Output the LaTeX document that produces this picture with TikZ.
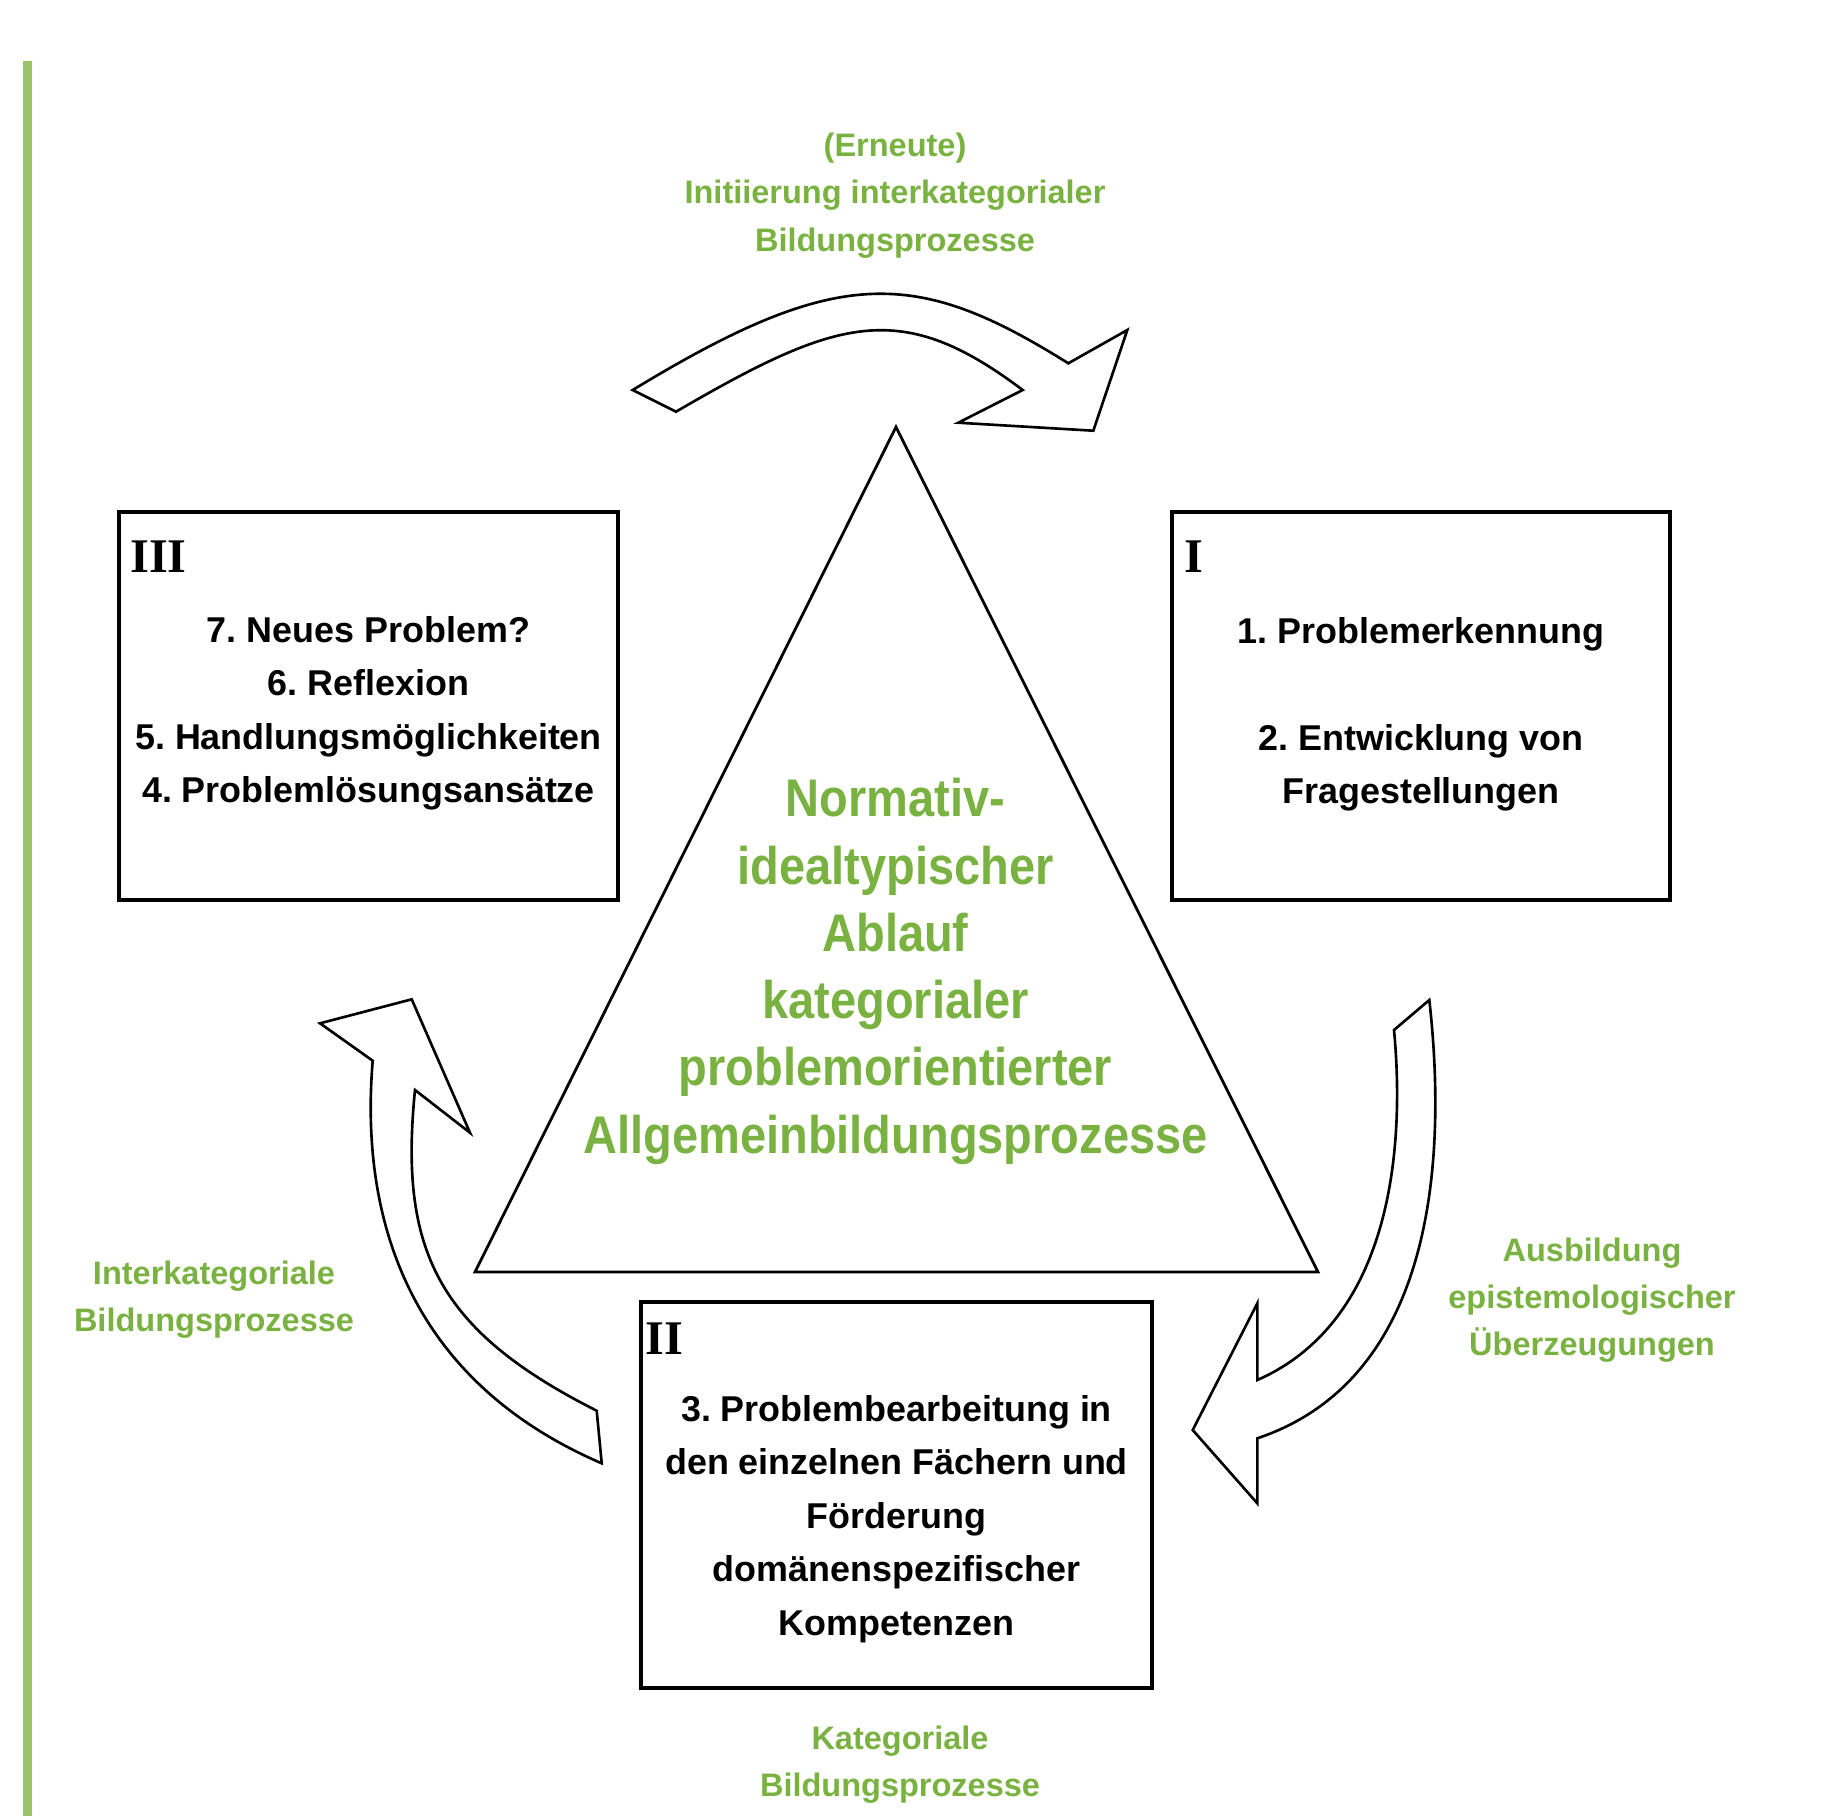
\documentclass[tikz,border=0pt]{standalone}
\usepackage{fontspec}
\setmainfont{Liberation Sans}
\newfontfamily\condfont[FakeStretch=0.887]{Liberation Sans}
\newfontfamily\romfont{Liberation Serif}
\definecolor{txtgreen}{RGB}{122,178,66}
\definecolor{bargreen}{RGB}{155,196,106}
\begin{document}
\begin{tikzpicture}[x=0.02cm,y=-0.02cm,
  box/.style={draw, line width=1.9pt, inner sep=0pt},
  boxtxt/.style={font=\frenchspacing\bfseries\fontsize{20.43pt}{30.45pt}\selectfont, align=center, anchor=base, inner sep=0pt},
  roman/.style={font=\romfont\bfseries\fontsize{27.5pt}{30pt}\selectfont, anchor=base west, inner sep=0pt},
  glabel/.style={text=txtgreen, font=\frenchspacing\bfseries\fontsize{18.5pt}{26.9pt}\selectfont, align=center, anchor=base, inner sep=0pt},
  gcenter/.style={text=txtgreen, font=\condfont\bfseries\fontsize{30.16pt}{38.3pt}\selectfont, align=center, anchor=base, inner sep=0pt},
  blockarrow/.style={draw, fill=white, line width=1.5pt, line join=miter},
  tri/.style={draw, line width=1.6pt, line join=miter}
]
\useasboundingbox (0,0) rectangle (1831,1816);
% green bar
\fill[bargreen] (23,61) rectangle (32,1816);

% boxes
\node[box, minimum width=9.98cm, minimum height=7.76cm] (boxIII) at (368.5,706) {};
\node[box, minimum width=9.96cm, minimum height=7.76cm] (boxI) at (1421,706) {};
\node[box, minimum width=10.22cm, minimum height=7.72cm] (boxII) at (896.5,1495) {};

% triangle
\coordinate (apex) at (896,427);
\coordinate (bl) at (475,1272);
\coordinate (br) at (1318,1272);
\draw[tri] (apex) -- (br) -- (bl) -- cycle;

% top block arrow
\draw[blockarrow] (632.7,390) .. controls (837.7,265.3) and (915.4,267.6) .. (1068.3,363.3)
  -- (1127.3,330) -- (1093.3,430.7) -- (958.3,422.7) -- (1022.7,390)
  .. controls (901.3,298.7) and (839.1,316.7) .. (676,411.7) -- cycle;

% left block arrow
\draw[blockarrow] (601.7,1463.3) .. controls (378.4,1367.1) and (363.4,1172.9) .. (372.7,1060.7)
  -- (320,1023.3) -- (411.7,999.3) -- (470,1132.7) -- (415,1090)
  .. controls (399,1249.8) and (437,1330) .. (596.7,1410.7) -- cycle;

% right block arrow
\draw[blockarrow] (1429.3,1000) .. controls (1446.8,1155.7) and (1436.3,1378.3) .. (1257.3,1438.3)
  -- (1257.3,1503.3) -- (1192.7,1430) -- (1257.3,1303.3) -- (1257.3,1380)
  .. controls (1390.9,1321.3) and (1405.3,1150) .. (1394,1030) -- cycle;

% roman numerals
\node[roman] (rIII) at (130,572.5) {III};
\node[roman] (rI) at (1184,572.5) {I};
\node[roman] (rII) at (645,1354) {II};

% box texts (anchor = baseline of the last line)
\node[boxtxt] (tIII) at (368.5,802.5) {7. Neues Problem?\\6. Reflexion\\5. Handlungsmöglichkeiten\\4. Problemlösungsansätze};
\node[boxtxt] (tI) at (1421,803.5) {1. Problemerkennung\\[30.45pt]2. Entwicklung von\\Fragestellungen};
\node[boxtxt] (tII) at (896.5,1635) {3. Problembearbeitung in\\den einzelnen Fächern und\\Förderung\\domänenspezifischer\\Kompetenzen};

% green labels
\node[glabel] (ltop) at (895,251.1) {(Erneute)\\Initiierung interkategorialer\\Bildungsprozesse};
\node[glabel] (lleft) at (214,1331.3) {Interkategoriale\\Bildungsprozesse};
\node[glabel] (lright) at (1592,1355.6) {Ausbildung\\epistemologischer\\Überzeugungen};
\node[glabel] (lbottom) at (900,1796.3) {Kategoriale\\Bildungsprozesse};
\node[gcenter] (center) at (895.5,1153.2) {Normativ-\\idealtypischer\\Ablauf\\kategorialer\\problemorientierter\\Allgemeinbildungsprozesse};
\end{tikzpicture}
\end{document}
